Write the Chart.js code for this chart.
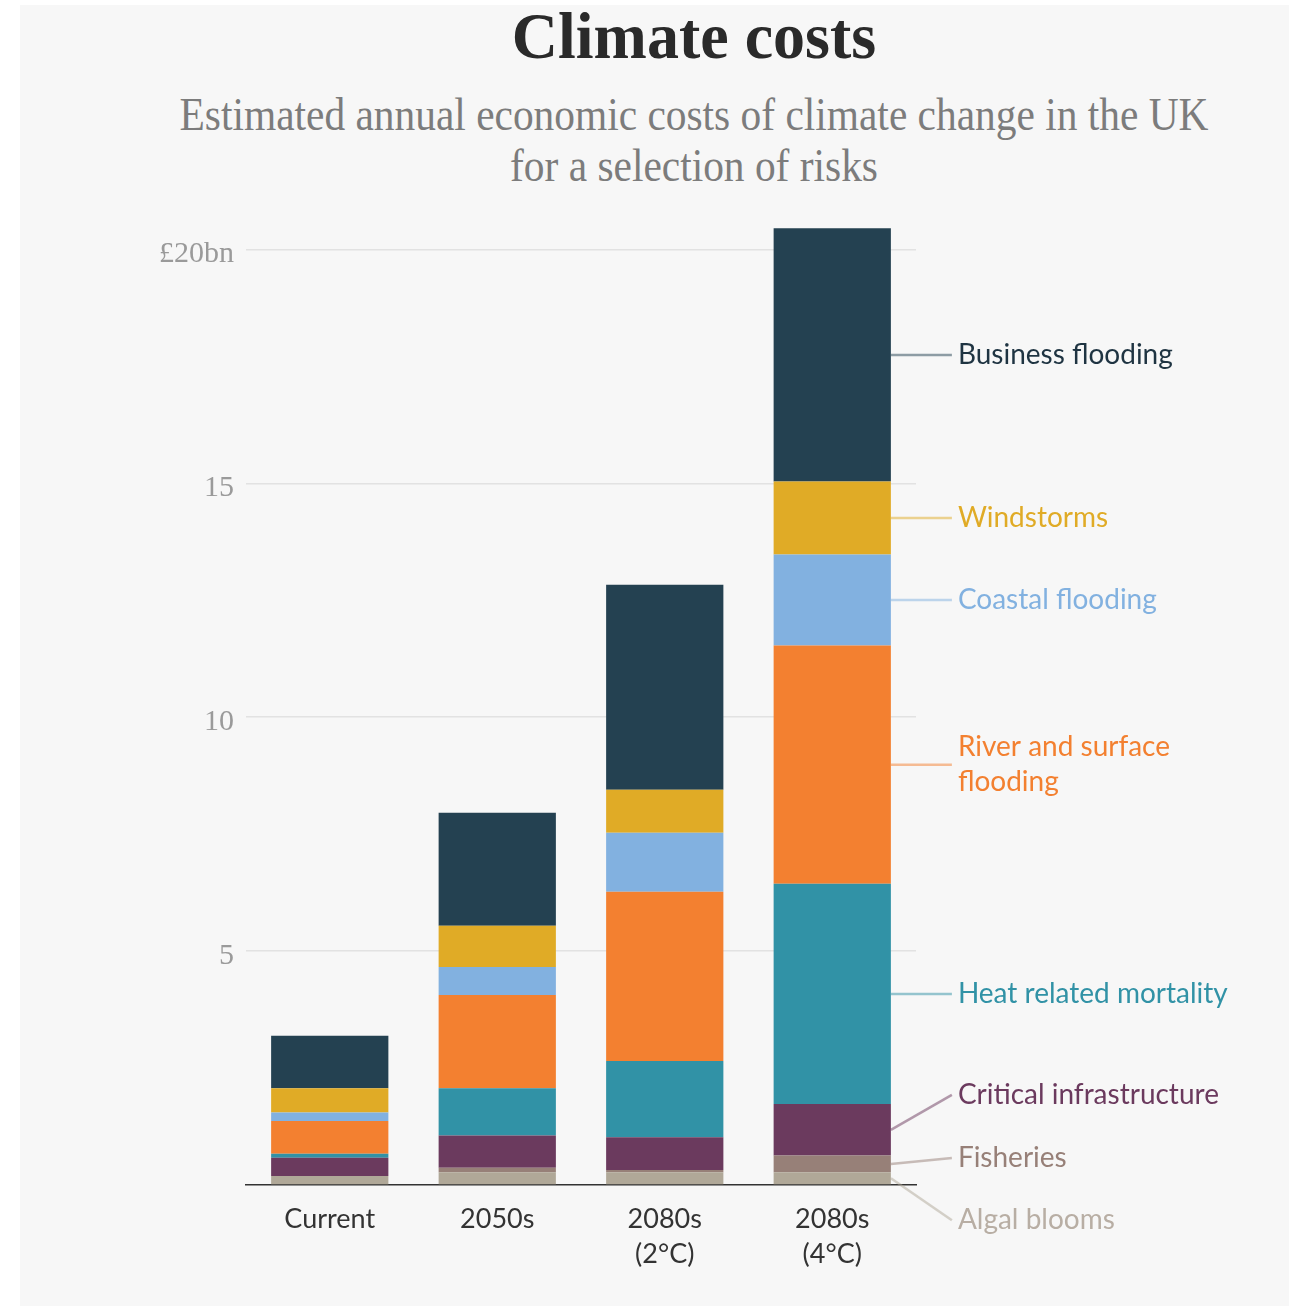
<!DOCTYPE html>
<html>
<head>
<meta charset="utf-8">
<script src="https://cdn.jsdelivr.net/npm/chart.js@4"></script>
<style>
    body { margin: 0; background: #ffffff; }
    #panel { position: absolute; left: 20px; top: 5px; width: 1269px; height: 1301px; background: #f7f7f7; }
    .title { position: absolute; left: -6px; width: 1400px; text-align: center; font-family: 'Liberation Serif', serif; white-space: nowrap; }
    #title { top: -2px; font-size: 66px; font-weight: bold; color: #2a2a2a; transform: scaleX(0.97); }
    #subtitle { top: 89px; font-size: 46px; line-height: 51px; color: #7c7c7c; transform: scaleX(0.9); }
    #wrap { position: absolute; left: 0; top: 0; width: 1289px; height: 1306px; }
</style>
</head>
<body>
<div id="panel"></div>
<div id="title" class="title">Climate costs</div>
<div id="subtitle" class="title">Estimated annual economic costs of climate change in the UK<br>for a selection of risks</div>
<div id="wrap"><canvas id="climate-chart" width="1289" height="1306"></canvas></div>
<script>
// Data (£bn per year)
const categories = ['Current', '2050s', ['2080s', '(2°C)'], ['2080s', '(4°C)']];
const risks = ['Algal blooms', 'Fisheries', 'Critical infrastructure', 'Heat related mortality',
    'River and surface flooding', 'Coastal flooding', 'Windstorms', 'Business flooding'];

const algalBlooms = [0.19, 0.27, 0.27, 0.27];
const fisheries = [0, 0.10, 0.05, 0.36];
const criticalInfrastructure = [0.39, 0.69, 0.70, 1.10];
const heatMortality = [0.09, 1.01, 1.63, 4.71];
const riverFlooding = [0.70, 1.99, 3.62, 5.09];
const coastalFlooding = [0.18, 0.60, 1.26, 1.95];
const windstorms = [0.52, 0.88, 0.92, 1.56];
const businessFlooding = [1.12, 2.42, 4.38, 5.41];

const yTicks = [0, 5, 10, 15, 20];

// Styles
const seriesValues = [algalBlooms, fisheries, criticalInfrastructure, heatMortality,
    riverFlooding, coastalFlooding, windstorms, businessFlooding];
const barColors = ['#b0a898', '#978078', '#6b3a5e', '#3192a6', '#f38030', '#82b1e0', '#e0ab26', '#244151'];
const textColors = ['#b8aea4', '#978078', '#6b3a5e', '#3192a6', '#f38030', '#82b1e0', '#e0ab26', '#1f3442'];
const labelLines = [['Algal blooms'], ['Fisheries'], ['Critical infrastructure'], ['Heat related mortality'],
    ['River and surface', 'flooding'], ['Coastal flooding'], ['Windstorms'], ['Business flooding']];
const labelShift = [42, -6, -35, 0, 0, 0, 0, 0];

const seriesLabels = {
    id: 'seriesLabels',
    afterDatasetsDraw(chart) {
        const ctx = chart.ctx;
        const last = categories.length - 1;
        chart.data.datasets.forEach(function(ds, i) {
            const bar = chart.getDatasetMeta(i).data[last];
            const mid = (bar.y + bar.base) / 2;
            const x0 = bar.x + bar.width / 2;
            const ty = mid + labelShift[i];

            ctx.save();
            ctx.globalAlpha = 0.5;
            ctx.strokeStyle = barColors[i];
            ctx.lineWidth = 2.5;
            ctx.beginPath();
            ctx.moveTo(x0, mid);
            ctx.lineTo(x0 + 61, ty);
            ctx.stroke();
            ctx.globalAlpha = 1;

            ctx.fillStyle = textColors[i];
            ctx.font = '28px Lato';
            ctx.textBaseline = 'middle';
            ctx.textAlign = 'left';
            const lines = labelLines[i];
            lines.forEach(function(line, j) {
                const y = ty + (j - (lines.length - 1) / 2) * 35;
                ctx.fillText(line, x0 + 67, y);
            });
            ctx.restore();
        });
    }
};

const climateChart = new Chart(document.getElementById('climate-chart'), {
    type: 'bar',
    data: {
        labels: categories,
        datasets: risks.map(function(name, i) {
            return {
                label: name,
                data: seriesValues[i],
                backgroundColor: barColors[i],
                borderWidth: 0,
                barPercentage: 0.7,
                categoryPercentage: 1
            };
        })
    },
    options: {
        responsive: false,
        animation: false,
        layout: {
            padding: { left: 0, right: 373, top: 226, bottom: 0 }
        },
        plugins: {
            legend: { display: false },
            tooltip: { enabled: false }
        },
        scales: {
            x: {
                stacked: true,
                grid: { display: false },
                border: { display: true, color: '#333333', width: 1.5 },
                ticks: {
                    color: '#333333',
                    font: { family: 'Lato', size: 27, lineHeight: 1.3 },
                    padding: 9
                },
                afterFit: function(scale) { scale.height = 121; }
            },
            y: {
                stacked: true,
                min: 0,
                max: 20.5,
                afterBuildTicks: function(scale) {
                    scale.ticks = yTicks.map(function(v) { return { value: v }; });
                },
                afterFit: function(scale) { scale.width = 246; },
                grid: {
                    color: function(c) { return c.tick && c.tick.value === 0 ? 'rgba(0,0,0,0)' : '#e2e2e2'; },
                    lineWidth: 1.5,
                    drawTicks: false
                },
                border: { display: false },
                ticks: {
                    color: '#9a9a9a',
                    font: { family: 'Liberation Serif', size: 30 },
                    padding: 12,
                    labelOffset: 5,
                    callback: function(v) {
                        if (v === 0) return '';
                        return v === 20 ? '£20bn' : String(v);
                    }
                }
            }
        }
    },
    plugins: [seriesLabels]
});
</script>
</body>
</html>
